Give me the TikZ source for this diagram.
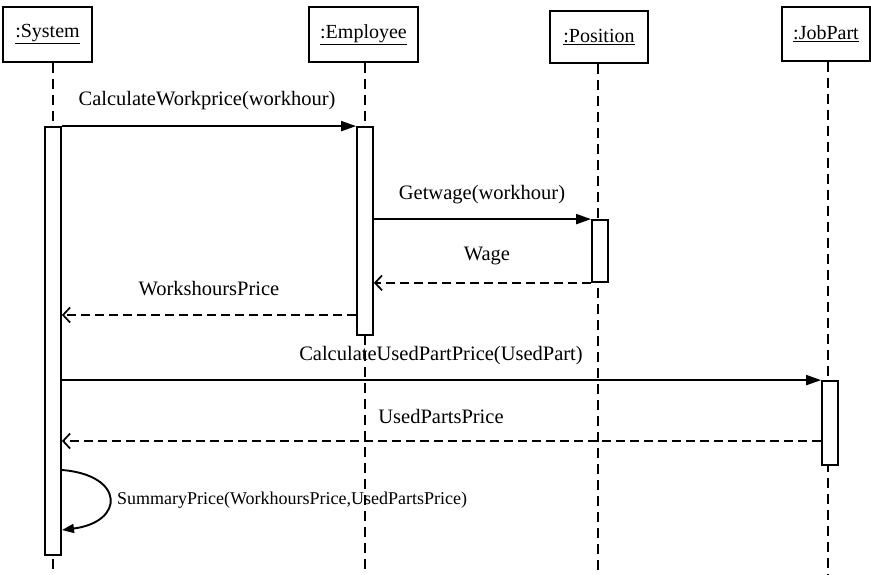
\documentclass[tikz,border=0pt]{standalone}
\usepackage{fontspec}
\setmainfont{Liberation Serif}
\usetikzlibrary{arrows.meta}
\begin{document}
\begin{tikzpicture}[x=1pt,y=-1pt,
  obj/.style={draw,line width=2pt,fill=white,inner sep=0pt,font=\fontsize{20}{23}\selectfont},
  act/.style={draw,line width=1.8pt,fill=white,inner sep=0pt,minimum width=16pt},
  life/.style={line width=1.8pt,dash pattern=on 10pt off 6pt},
  call/.style={line width=1.9pt,-{Triangle[length=15pt,width=10pt]}},
  ret/.style={line width=1.7pt,dash pattern=on 9pt off 5pt,-{Straight Barb[length=7pt,width=15pt,line width=1.7pt]}},
  lbl/.style={font=\fontsize{20.5}{23}\selectfont,inner sep=0pt}]
\useasboundingbox (0,0) rectangle (871,575);
% objects
\node[obj,minimum width=89pt,minimum height=55pt] (sys) at (47.5,34.5) {\underline{:System}};
\node[obj,minimum width=109pt,minimum height=55pt] (emp) at (363.5,34.5) {\underline{:Employee}};
\node[obj,minimum width=98pt,minimum height=52pt] (pos) at (599,37) {\underline{:Position}};
\node[obj,minimum width=88pt,minimum height=54pt] (job) at (826,34) {\underline{:JobPart}};
% lifelines
\coordinate (sysEnd) at (53,575);
\coordinate (empEnd) at (365,575);
\coordinate (posEnd) at (598,575);
\coordinate (jobEnd) at (828,575);
\draw[life] (sys.south -| sysEnd) -- (sysEnd);
\draw[life] (emp.south -| empEnd) -- (empEnd);
\draw[life] (pos.south -| posEnd) -- (posEnd);
\draw[life] (job.south -| jobEnd) -- (jobEnd);
% activations
\node[act,minimum height=428pt] (aS) at (53,341) {};
\node[act,minimum height=208pt] (aE) at (365,231) {};
\node[act,minimum height=62pt] (aP) at (600,251) {};
\node[act,minimum height=84pt] (aJ) at (830,423) {};
% messages
\draw[call] (aS.north east) -- (aE.north west);
\node[lbl] (m1) at (207,101) {CalculateWorkprice(workhour)};
\draw[call] (aE.east |- aP.north) -- (aP.north west);
\node[lbl] (m2) at (482,195) {Getwage(workhour)};
\draw[ret] (aP.south west) -- (aE.east |- aP.south);
\node[lbl] (m3) at (487,256) {Wage};
\coordinate (r4) at (0,315);
\draw[ret] (aE.west |- r4) -- (aS.east |- r4);
\node[lbl] (m4) at (209,289) {WorkshoursPrice};
\draw[call] (aS.east |- aJ.north) -- (aJ.north west);
\node[lbl] (m5) at (441,356) {CalculateUsedPartPrice(UsedPart)};
\coordinate (r6) at (0,441);
\draw[ret] (aJ.west |- r6) -- (aS.east |- r6);
\node[lbl] (m6) at (441,416) {UsedPartsPrice};
\coordinate (s1) at (62,470);
\coordinate (s2) at (62,530);
\draw[line width=1.9pt,-{Triangle[length=12pt,width=9pt]}] (s1) .. controls (125,475) and (125,522) .. (s2);
\node[lbl,anchor=west,font=\fontsize{18}{21}\selectfont] (m7) at (117,500) {SummaryPrice(WorkhoursPrice,UsedPartsPrice)};
\end{tikzpicture}
\end{document}
